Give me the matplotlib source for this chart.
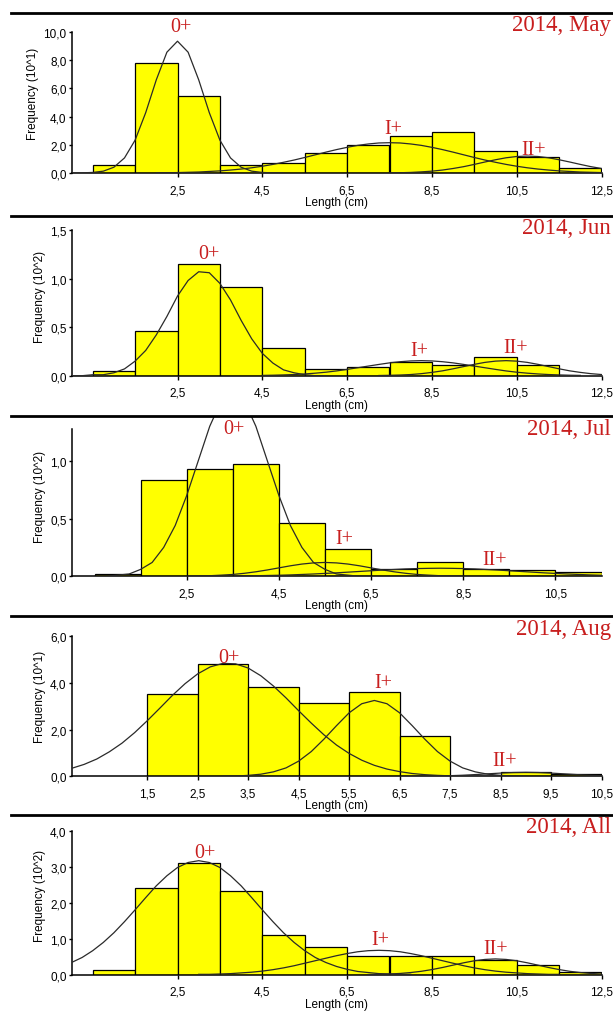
import numpy as np
import matplotlib.pyplot as plt
from matplotlib.lines import Line2D
from matplotlib.ticker import FuncFormatter

plt.rcParams['font.family'] = ['Liberation Sans', 'DejaVu Sans']

STEP = 0.25  # spacing (cm) of the points

#
# Data (length classes are 1 cm wide, centred on whole cm)
#
may_bins = [1, 2, 3, 4, 5, 6, 7, 8, 9, 10, 11, 12]
may_freq = [0.54, 7.83, 5.49, 0.54, 0.68, 1.41, 1.98, 2.60, 2.94, 1.58, 1.17, 0.36]
may_0_from = 0.0
may_0 = [0.0, 0.01, 0.04, 0.13, 0.41, 1.07, 2.33, 4.28, 6.61, 8.57, 9.35, 8.57, 6.61,
         4.28, 2.33, 1.07, 0.41, 0.13, 0.04, 0.01, 0.0]
may_1_from = 2.0
may_1 = [0.01, 0.02, 0.03, 0.05, 0.07, 0.11, 0.15, 0.21, 0.28, 0.37, 0.48, 0.61, 0.76,
         0.92, 1.10, 1.29, 1.48, 1.66, 1.82, 1.96, 2.06, 2.13, 2.15, 2.13, 2.06, 1.96,
         1.82, 1.66, 1.48, 1.29, 1.10, 0.92, 0.76, 0.61, 0.48, 0.37, 0.28, 0.21, 0.15,
         0.11, 0.07, 0.05, 0.03]
may_2_from = 7.5
may_2 = [0.01, 0.02, 0.04, 0.08, 0.13, 0.21, 0.32, 0.45, 0.61, 0.78, 0.94, 1.08, 1.17,
         1.20, 1.17, 1.08, 0.94, 0.78, 0.61, 0.45, 0.32]

jun_bins = [1, 2, 3, 4, 5, 6, 7, 8, 9, 10, 11]
jun_freq = [0.05, 0.46, 1.15, 0.91, 0.28, 0.07, 0.085, 0.14, 0.11, 0.19, 0.11]
jun_0_from = 0.0
jun_0 = [0.00, 0.00, 0.01, 0.01, 0.03, 0.07, 0.15, 0.26, 0.42, 0.61, 0.82, 0.98, 1.07,
         1.06, 0.95, 0.78, 0.57, 0.38, 0.23, 0.13, 0.06, 0.03, 0.01, 0.00, 0.00]
jun_1_from = 4.5
jun_1 = [0.003, 0.005, 0.008, 0.012, 0.018, 0.026, 0.036, 0.049, 0.065, 0.082, 0.099,
         0.116, 0.132, 0.144, 0.152, 0.155, 0.152, 0.144, 0.132, 0.116, 0.099, 0.082,
         0.065, 0.049, 0.036, 0.026, 0.018, 0.012, 0.008, 0.005, 0.003]
jun_2_from = 7.25
jun_2 = [0.002, 0.004, 0.007, 0.012, 0.021, 0.034, 0.050, 0.071, 0.094, 0.117, 0.137,
         0.150, 0.155, 0.150, 0.137, 0.117, 0.094, 0.071, 0.050, 0.034, 0.021, 0.012]

jul_bins = [1, 2, 3, 4, 5, 6, 7, 8, 9, 10, 11]
jul_freq = [0.02, 0.83, 0.93, 0.97, 0.46, 0.24, 0.065, 0.12, 0.065, 0.057, 0.04]
jul_0_from = 0.5
jul_0 = [0.0, 0.0, 0.01, 0.02, 0.06, 0.12, 0.25, 0.44, 0.70, 1.00, 1.30, 1.52, 1.60,
         1.52, 1.30, 1.00, 0.70, 0.44, 0.25, 0.12, 0.06, 0.02, 0.01, 0.0, 0.0]
jul_1_from = 2.5
jul_1 = [0.001, 0.003, 0.005, 0.010, 0.016, 0.026, 0.039, 0.055, 0.073, 0.091, 0.106,
         0.116, 0.120, 0.116, 0.106, 0.091, 0.073, 0.055, 0.039, 0.026, 0.016, 0.010,
         0.005, 0.003, 0.001]
jul_2_from = 3.5
jul_2 = [0.002, 0.003, 0.005, 0.007, 0.009, 0.012, 0.016, 0.020, 0.025, 0.030, 0.036,
         0.042, 0.048, 0.054, 0.059, 0.064, 0.067, 0.069, 0.070, 0.069, 0.067, 0.064,
         0.059, 0.054, 0.048, 0.042, 0.036, 0.030, 0.025, 0.020, 0.016, 0.012, 0.009]

aug_bins = [2, 3, 4, 5, 6, 7, 8, 9, 10]
aug_freq = [3.53, 4.81, 3.81, 3.13, 3.63, 1.71, 0.03, 0.20, 0.10]
aug_0_from = 0.0
aug_0 = [0.34, 0.51, 0.74, 1.05, 1.42, 1.87, 2.38, 2.92, 3.47, 3.97, 4.39, 4.69, 4.84,
         4.82, 4.64, 4.31, 3.87, 3.36, 2.81, 2.28, 1.78, 1.34, 0.98, 0.69, 0.47, 0.31,
         0.20, 0.12, 0.07, 0.04, 0.02, 0.01, 0.01, 0.0, 0.0]
aug_1_from = 3.0
aug_1 = [0.01, 0.01, 0.04, 0.09, 0.19, 0.36, 0.65, 1.06, 1.59, 2.17, 2.72, 3.11, 3.25,
         3.11, 2.72, 2.17, 1.59, 1.06, 0.65, 0.36, 0.19, 0.09, 0.04, 0.01, 0.01]
aug_2_from = 6.5
aug_2 = [0.001, 0.002, 0.006, 0.013, 0.026, 0.046, 0.074, 0.106, 0.138, 0.161, 0.170,
         0.161, 0.138, 0.106, 0.074, 0.046, 0.026]

all_bins = [1, 2, 3, 4, 5, 6, 7, 8, 9, 10, 11, 12]
all_freq = [0.13, 2.42, 3.12, 2.33, 1.12, 0.78, 0.53, 0.53, 0.51, 0.42, 0.28, 0.08]
all_0_from = 0.0
all_0 = [0.34, 0.48, 0.67, 0.90, 1.17, 1.48, 1.81, 2.15, 2.48, 2.76, 2.99, 3.13, 3.18,
         3.13, 2.99, 2.76, 2.48, 2.15, 1.81, 1.48, 1.17, 0.90, 0.67, 0.48, 0.34, 0.23,
         0.15, 0.09, 0.06, 0.03, 0.02, 0.01, 0.01]
all_1_from = 3.0
all_1 = [0.01, 0.01, 0.02, 0.03, 0.05, 0.07, 0.10, 0.14, 0.19, 0.25, 0.32, 0.39, 0.46,
         0.53, 0.59, 0.64, 0.67, 0.68, 0.67, 0.64, 0.59, 0.53, 0.46, 0.39, 0.32, 0.25,
         0.19, 0.14, 0.10, 0.07, 0.05, 0.03, 0.02, 0.01, 0.01]
all_2_from = 7.0
all_2 = [0.005, 0.010, 0.019, 0.035, 0.060, 0.095, 0.143, 0.201, 0.267, 0.332, 0.388,
         0.426, 0.440, 0.426, 0.388, 0.332, 0.267, 0.201, 0.143, 0.095, 0.060, 0.035,
         0.019]

titles = ["2014, May", "2014, Jun", "2014, Jul", "2014, Aug", "2014, All"]
ylabels = ["Frequency (10^1)", "Frequency (10^2)", "Frequency (10^2)",
           "Frequency (10^1)", "Frequency (10^2)"]
age_names = ["0+", "I+", "II+"]

#
# Layout (pixels in a 613 x 1012 figure)
#
W, H = 613, 1012
panel_top = [14, 216.7, 417.3, 617.3, 815.7]   # heavy rule above each panel
plot_h = 160                                     # rule -> zero line
ax_left, ax_w = 71.5, 530
ylim_top = [11.35, 1.647, 1.386, 6.857, 4.463]
yspine_top = [10, 1.5, 1.276, 6, 4]
yticks = [[0, 2, 4, 6, 8, 10], [0, 0.5, 1.0, 1.5], [0, 0.5, 1.0], [0, 2, 4, 6],
          [0, 1, 2, 3, 4]]
xmax = [12.5, 12.5, 11.5, 10.5, 12.5]
xticks = [np.arange(2.5, 12.6, 2), np.arange(2.5, 12.6, 2), np.arange(2.5, 10.6, 2),
          np.arange(1.5, 10.6, 1), np.arange(2.5, 12.6, 2)]
age_pos = [[(2.57, 10.4), (7.58, 3.15), (10.9, 1.68)],
           [(3.23, 1.254), (8.2, 0.26), (10.48, 0.29)],
           [(3.53, 1.276), (5.91, 0.328), (9.19, 0.145)],
           [(3.12, 5.11), (6.18, 4.0), (8.59, 0.66)],
           [(3.15, 3.42), (7.28, 0.97), (10.0, 0.72)]]

panels = [
    (may_bins, may_freq, [(may_0_from, may_0), (may_1_from, may_1), (may_2_from, may_2)]),
    (jun_bins, jun_freq, [(jun_0_from, jun_0), (jun_1_from, jun_1), (jun_2_from, jun_2)]),
    (jul_bins, jul_freq, [(jul_0_from, jul_0), (jul_1_from, jul_1), (jul_2_from, jul_2)]),
    (aug_bins, aug_freq, [(aug_0_from, aug_0), (aug_1_from, aug_1), (aug_2_from, aug_2)]),
    (all_bins, all_freq, [(all_0_from, all_0), (all_1_from, all_1), (all_2_from, all_2)]),
]

red = "#c81e1e"
comma = FuncFormatter(lambda v, p: f"{v:.1f}".replace(".", ","))

fig = plt.figure(figsize=(W / 100, H / 100), dpi=100)

for i, (bins, freq, comps) in enumerate(panels):
    top = panel_top[i]
    ax = fig.add_axes([ax_left / W, 1 - (top + plot_h) / H, ax_w / W, plot_h / H])
    ax.bar(bins, freq, width=1.0, color="#ffff00", edgecolor="black",
           linewidth=0.9, zorder=2)
    for start, vals in comps:
        xs = start + STEP * np.arange(len(vals))
        ax.plot(xs, vals, color="#2a2a2a", lw=0.9, zorder=3)

    ax.set_xlim(0, xmax[i])
    ax.set_ylim(0, ylim_top[i])
    for s in ("top", "right"):
        ax.spines[s].set_visible(False)
    ax.spines["left"].set_bounds(0, yspine_top[i])
    ax.spines["bottom"].set_bounds(0, xmax[i])
    for s in ("left", "bottom"):
        ax.spines[s].set_linewidth(1.1)
    ax.set_xticks(xticks[i])
    ax.set_yticks(yticks[i])
    ax.xaxis.set_major_formatter(comma)
    ax.yaxis.set_major_formatter(comma)
    ax.tick_params(axis="x", length=3, width=1, labelsize=8.5, pad=5)
    ax.tick_params(axis="y", length=2.5, width=1, labelsize=8.5, pad=1)
    ax.set_xlabel("Length (cm)", fontsize=8.5, labelpad=0)
    ax.set_ylabel(ylabels[i], fontsize=8.5, labelpad=3)

    for name, (lx, ly) in zip(age_names, age_pos[i]):
        ax.text(lx, ly, name, color=red, fontsize=14.5, family="Liberation Serif",
                ha="center", va="center", clip_on=False, zorder=5)

    fig.add_artist(Line2D([11 / W, 1], [1 - top / H] * 2, color="black", lw=2))
    fig.text(611 / W, 1 - (top + 12) / H, titles[i], color=red, fontsize=16.5,
             family="Liberation Serif", ha="right", va="center")

fig.savefig("out.png", dpi=100)
